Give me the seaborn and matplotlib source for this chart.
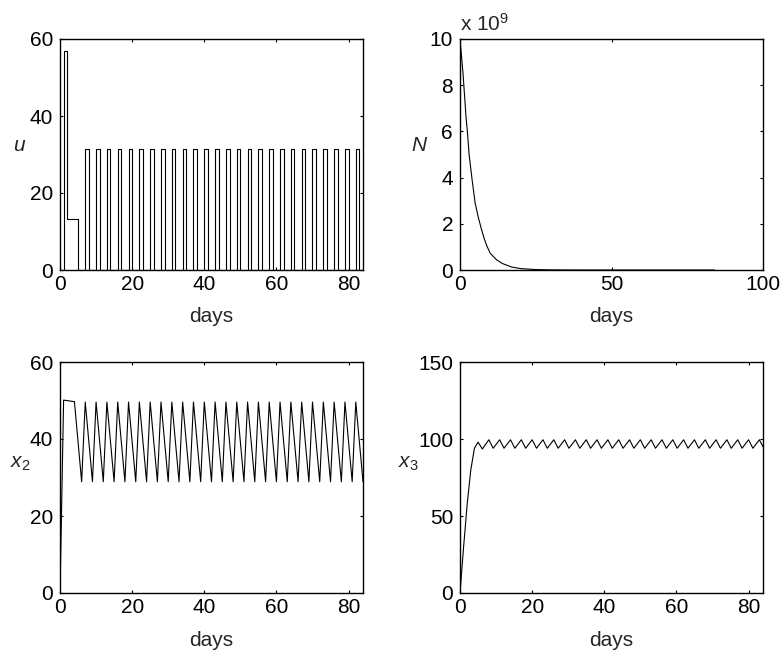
import matplotlib
matplotlib.use("Agg")
import matplotlib.pyplot as plt
import seaborn as sns
import pandas as pd

# ---------------- data ----------------
# u: piecewise-constant dose (step start times and levels)
u_days = [0, 1, 2, 5, 7, 8, 10, 11, 13, 14, 16, 17, 19, 20, 22, 23, 25, 26,
          28, 29, 31, 32, 34, 35, 37, 38, 40, 41, 43, 44, 46, 47, 49, 50,
          52, 53, 55, 56, 58, 59, 61, 62, 64, 65, 67, 68, 70, 71, 73, 74,
          76, 77, 79, 80, 82, 83, 84]
u_vals = [0, 57, 13.3, 0, 31.3, 0, 31.3, 0, 31.3, 0, 31.3, 0, 31.3, 0, 31.3, 0,
          31.3, 0, 31.3, 0, 31.3, 0, 31.3, 0, 31.3, 0, 31.3, 0, 31.3, 0, 31.3, 0,
          31.3, 0, 31.3, 0, 31.3, 0, 31.3, 0, 31.3, 0, 31.3, 0, 31.3, 0, 31.3, 0,
          31.3, 0, 31.3, 0, 31.3, 0, 31.3, 0, 0]

# N (in units of 1e9)
n_days = [0, 1, 2, 2.5, 3, 4, 5, 6, 7, 8, 9, 10, 12, 14, 17, 20, 25, 30, 40, 60, 84]
n_vals = [10, 8.5, 6.6, 5.9, 5.0, 3.9, 2.9, 2.3, 1.8, 1.35, 1.0, 0.72, 0.45,
          0.28, 0.13, 0.06, 0.02, 0.005, 0, 0, 0]

# x2
x2_days = [0, 1, 4, 6, 7, 9, 10, 12, 13, 15, 16, 18, 19, 21, 22, 24, 25, 27, 28,
           30, 31, 33, 34, 36, 37, 39, 40, 42, 43, 45, 46, 48, 49, 51, 52, 54,
           55, 57, 58, 60, 61, 63, 64, 66, 67, 69, 70, 72, 73, 75, 76, 78, 79,
           81, 82, 84]
x2_vals = [0, 50.1, 49.7, 28.9, 49.6, 28.9, 49.6, 28.9, 49.6, 28.9, 49.6, 28.9,
           49.6, 28.9, 49.6, 28.9, 49.6, 28.9, 49.6, 28.9, 49.6, 28.9, 49.6, 28.9,
           49.6, 28.9, 49.6, 28.9, 49.6, 28.9, 49.6, 28.9, 49.6, 28.9, 49.6, 28.9,
           49.6, 28.9, 49.6, 28.9, 49.6, 28.9, 49.6, 28.9, 49.6, 28.9, 49.6, 28.9,
           49.6, 28.9, 49.6, 28.9, 49.6, 28.9, 49.6, 28.9]

# x3
x3_days = [0, 1, 2, 3, 4, 5, 6.2, 8, 9.2, 11, 12.2, 14, 15.2, 17, 18.2, 20, 21.2,
           23, 24.2, 26, 27.2, 29, 30.2, 32, 33.2, 35, 36.2, 38, 39.2, 41, 42.2,
           44, 45.2, 47, 48.2, 50, 51.2, 53, 54.2, 56, 57.2, 59, 60.2, 62, 63.2,
           65, 66.2, 68, 69.2, 71, 72.2, 74, 75.2, 77, 78.2, 80, 81.2, 83, 84]
x3_vals = [0, 30, 58, 80, 94, 98, 93.5, 99.5, 94, 99.5, 94, 99.5, 94, 99.5, 94,
           99.5, 94, 99.5, 94, 99.5, 94, 99.5, 94, 99.5, 94, 99.5, 94, 99.5, 94,
           99.5, 94, 99.5, 94, 99.5, 94, 99.5, 94, 99.5, 94, 99.5, 94, 99.5, 94,
           99.5, 94, 99.5, 94, 99.5, 94, 99.5, 94, 99.5, 94, 99.5, 94, 99.5, 94,
           99.5, 95]

# ---------------- style ----------------
sns.set_theme(style="white")
plt.rcParams["font.family"] = ["Liberation Sans", "DejaVu Sans"]
plt.rcParams["mathtext.fontset"] = "custom"
plt.rcParams["mathtext.it"] = "Liberation Sans:italic"
plt.rcParams["mathtext.rm"] = "Liberation Sans"

fig = plt.figure(figsize=(7.83, 6.55), dpi=100)
W, H = 783, 655


def add_ax(l, t, r, b):
    return fig.add_axes([l / W, 1 - b / H, (r - l) / W, (b - t) / H])


ax_u = add_ax(60, 39, 363, 270)
ax_n = add_ax(460, 39, 763, 270)
ax_x2 = add_ax(60, 362, 363, 593)
ax_x3 = add_ax(460, 362, 763, 593)

lw = 0.8
sns.lineplot(data=pd.DataFrame({"t": u_days, "v": u_vals}), x="t", y="v",
             ax=ax_u, color="black", lw=lw, drawstyle="steps-post",
             estimator=None, sort=False)
sns.lineplot(data=pd.DataFrame({"t": n_days, "v": n_vals}), x="t", y="v",
             ax=ax_n, color="black", lw=lw, estimator=None, sort=False)
sns.lineplot(data=pd.DataFrame({"t": x2_days, "v": x2_vals}), x="t", y="v",
             ax=ax_x2, color="black", lw=lw, estimator=None, sort=False)
sns.lineplot(data=pd.DataFrame({"t": x3_days, "v": x3_vals}), x="t", y="v",
             ax=ax_x3, color="black", lw=lw, estimator=None, sort=False)

fs = 15
# (axis, xlim, xticks, ylim, yticks, ylabel, ylabel x-offset px, ylabel y-frac)
specs = [
    (ax_u, (0, 84), [0, 20, 40, 60, 80], (0, 60), [0, 20, 40, 60], "$u$", -40, 0.541),
    (ax_n, (0, 100), [0, 50, 100], (0, 10), [0, 2, 4, 6, 8, 10], "$N$", -40, 0.541),
    (ax_x2, (0, 84), [0, 20, 40, 60, 80], (0, 60), [0, 20, 40, 60], "$x_2$", -40, 0.56),
    (ax_x3, (0, 84), [0, 20, 40, 60, 80], (0, 150), [0, 50, 100, 150], "$x_3$", -52, 0.56),
]
for ax, xl, xt, yl, yt, lab, yx, yy in specs:
    ax.set_xlim(*xl)
    ax.set_ylim(*yl)
    ax.set_xticks(xt)
    ax.set_yticks(yt)
    ax.set_xticklabels([str(v) for v in xt], fontsize=fs)
    ax.set_yticklabels([str(v) for v in yt], fontsize=fs)
    ax.set_xlabel("days", fontsize=fs, va="center", ha="center")
    ax.xaxis.set_label_coords(0.5, -47 / 231)
    ax.set_ylabel(lab, fontsize=fs, rotation=0, va="center", ha="center")
    ax.yaxis.set_label_coords(yx / 303, yy)
    ax.tick_params(axis="x", pad=3.5)
    ax.tick_params(axis="y", pad=5)
    ax.tick_params(direction="in", length=2.5, width=0.8, top=True, right=True,
                   bottom=True, left=True, colors="black")
    for s in ax.spines.values():
        s.set_visible(True)
        s.set_color("black")
        s.set_linewidth(1.0)

ax_n.text(0.0, 1.02, r"x 10$^{9}$", transform=ax_n.transAxes, fontsize=fs,
          ha="left", va="bottom")

fig.savefig("out.png", dpi=100, facecolor="white")
